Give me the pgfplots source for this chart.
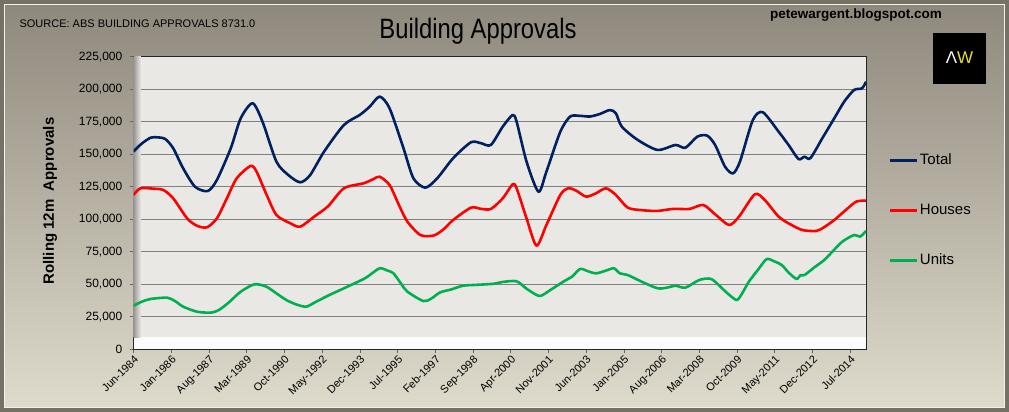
\documentclass[border=0pt]{standalone}
\usepackage{pgfplots}
\pgfplotsset{compat=1.18}
\usepackage{fontspec}
\setmainfont{Liberation Sans}
\newfontfamily\narrowfont[FakeStretch=0.85]{Liberation Sans}
\definecolor{bgtop}{RGB}{142,136,124}
\definecolor{bgbot}{RGB}{224,220,205}
\definecolor{framecol}{RGB}{118,113,102}
\definecolor{plotbg}{RGB}{234,232,228}
\definecolor{cTotal}{RGB}{0,32,96}
\definecolor{cHouses}{RGB}{255,0,0}
\definecolor{cUnits}{RGB}{0,176,80}
\definecolor{logoyel}{RGB}{232,224,40}
\begin{document}
\begin{tikzpicture}[x=1pt,y=1pt]
\useasboundingbox (0,0) rectangle (1009,412);
\shade[top color=bgtop, bottom color=bgbot] (0,0) rectangle (1009,412);
\draw[framecol, line width=4pt] (2,2) rectangle (1007,410);
\draw[white!60!bgbot, line width=0.8pt] (4.5,4.5) rectangle (1004.5,407.5);
% texts
\node[anchor=west, font=\fontsize{11}{13}\selectfont] at (16,388) {SOURCE: ABS BUILDING APPROVALS 8731.0};
\node[font=\narrowfont\fontsize{28}{30}\selectfont] at (478,381) {Building Approvals};
\node[font=\bfseries\fontsize{13.5}{15}\selectfont] at (856,397) {petewargent.blogspot.com};
\fill[black] (933,328) rectangle (986,379);
\node[font=\fontsize{17}{18}\selectfont, inner sep=0pt] at (959.5,354) {\textcolor{white}{Λ}\textcolor{logoyel}{W}};
\node[rotate=90, font=\bfseries\fontsize{15}{17}\selectfont] at (50,211) {Rolling 12m\ \ Approvals};
\begin{axis}[
  at={(133.5pt,62.7pt)}, anchor=south west,
  scale only axis, width=732.5pt, height=292.6pt,
  xmin=0, xmax=369, ymin=0, ymax=225000,
  xtick={0,19,...,361},
  xticklabels={Jun-1984,Jan-1986,Aug-1987,Mar-1989,Oct-1990,May-1992,Dec-1993,Jul-1995,Feb-1997,Sep-1998,Apr-2000,Nov-2001,Jun-2003,Jan-2005,Aug-2006,Mar-2008,Oct-2009,May-2011,Dec-2012,Jul-2014},
  x tick label style={rotate=45, anchor=north east, font=\fontsize{11}{12}\selectfont, inner sep=1pt},
  ytick={0,25000,50000,75000,100000,125000,150000,175000,200000,225000},
  yticklabels={0,{25,000},{50,000},{75,000},{100,000},{125,000},{150,000},{175,000},{200,000},{225,000}},
  scaled y ticks=false,
  y tick label style={font=\fontsize{12}{13}\selectfont, inner sep=2pt, xshift=-5pt},
  xtick pos=bottom, ytick pos=left,
  tick align=outside, major tick length=4pt,
  tick style={black!60, line width=0.6pt},
  ymajorgrids, grid style={draw=black!50, line width=0.7pt},
  axis background/.style={fill=plotbg},
  axis line style={black!85, line width=0.8pt},
  legend style={at={(1.027,0.68)}, anchor=north west, draw=none, fill=none,
    font=\fontsize{15}{17}\selectfont, row sep=34pt,
    nodes={inner sep=1pt, text height=11pt, text depth=3pt}},
  legend cell align=left,
  legend image code/.code={\draw[#1, line width=3pt] (0pt,0pt) -- (27pt,0pt);},
]
\fill[white!85!plotbg] (rel axis cs:0,0) rectangle (rel axis cs:1,0.042);
\shade[left color=black!35!plotbg, right color=plotbg] (rel axis cs:0,0.042) rectangle (rel axis cs:0.01,1);
\addplot[cTotal, line width=2.6pt, line join=round, smooth, tension=0.45] coordinates {
(0,152000) (4,158000) (8.6,162700) (12,163000) (16,161700) (20,154600) (25,139200) (31,125000) (37.4,121700) (42,130200) (49,154600) (54,177600) (60,189200) (65,175000) (72,144300) (78,134000) (84,128400) (89,134000) (96,152000) (106,172500) (114,180200) (119,186600) (124,194300) (129,185300) (136,154600) (141,131500) (147,124300) (153,131500) (161,146900) (170,159200) (175,158500) (180,157100) (186,171200) (191,180200) (193,175000) (198,144300) (204,121200) (208,136600) (215,167300) (220,179000) (225,179500) (230,179000) (235,181000) (240,184000) (243,181500) (246,171200) (254,161000) (264,153300) (273,157100) (278,155000) (284,163500) (289,164300) (293,157100) (298,140400) (302,135300) (305.5,144300) (312,176300) (317,182300) (325,167300) (330,157100) (335,146300) (338,148100) (341,147000) (347,162300) (353,177600) (358,190400) (363,199400) (367,200700) (369,205800)
};
\addlegendentry{Total}
\addplot[cHouses, line width=2.6pt, line join=round, smooth, tension=0.45] coordinates {
(0,118700) (3.5,123800) (10,123500) (15,122500) (20,116100) (27,100700) (32,95000) (37,93800) (42,100700) (47,116000) (52,131500) (59,141000) (62,136600) (67,119000) (72,103300) (79,96900) (84,94300) (91,102000) (98,110000) (106,123800) (116,127700) (121,131000) (124,132700) (129,126300) (134,110000) (138,98100) (144.5,87900) (151,87400) (156,92000) (161,99400) (170,108900) (175,108000) (180,107900) (186,116100) (191,126900) (193,123800) (198,100700) (203,79700) (208,95600) (215,118700) (219,123800) (223,122000) (228,117400) (233,120000) (238,123800) (243,118700) (249,108900) (256,107000) (264,106400) (272,108000) (280,107900) (287,111000) (293,103800) (300,95600) (305,102000) (313,119200) (318,114800) (325,102000) (331,96000) (337,91700) (344,91000) (348,94000) (353,99400) (358,106000) (364,113500) (369,114300)
};
\addlegendentry{Houses}
\addplot[cUnits, line width=2.6pt, line join=round, smooth, tension=0.45] coordinates {
(0,33500) (4,36500) (8.6,38700) (17,39700) (21,37000) (25,32800) (32,28900) (39,28200) (43,30200) (48,36000) (54,44300) (61,50000) (67,48100) (72,43000) (77,37900) (82,34500) (87,32800) (92,36600) (99,42000) (106,46900) (116,54100) (119,57100) (124,62300) (128,60500) (131,58400) (135,50000) (138,44300) (146,37100) (150,39000) (154.5,43800) (160,46000) (166,48900) (172,49500) (178,50000) (182,50500) (186,51800) (193,52300) (198,46600) (204.5,41000) (210,45600) (216.5,52000) (221,56000) (225,61800) (229,60000) (233,58400) (238,60500) (242,62300) (245,58400) (249,57100) (256,52000) (264,46900) (269,47500) (273,48900) (278,47400) (285,53300) (291,54100) (296.5,46900) (300,42000) (304,37900) (307,44000) (310,52000) (315,62000) (319,69400) (323,67500) (326.6,64800) (330,59000) (334,54100) (336,57000) (338,57100) (343,63000) (348,68700) (352,75000) (357,82700) (363,87900) (366,86600) (369,91000)
};
\addlegendentry{Units}
\end{axis}
\end{tikzpicture}
\end{document}
